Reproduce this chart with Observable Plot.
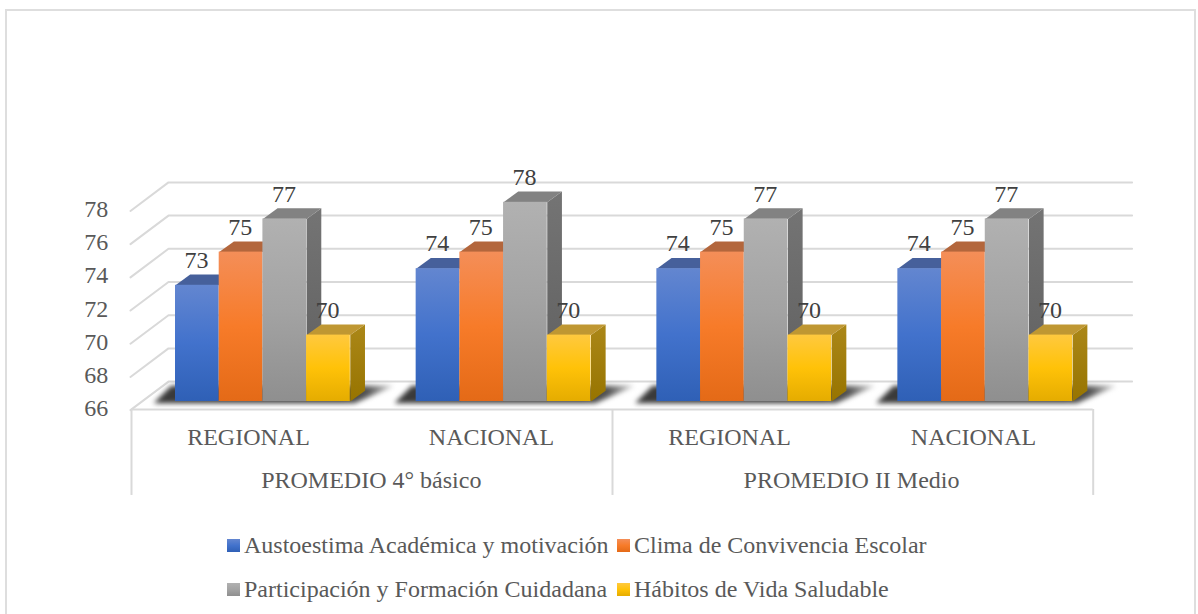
<!DOCTYPE html>
<html><head><meta charset="utf-8">
<script src="https://cdn.jsdelivr.net/npm/d3@7"></script>
<script src="https://cdn.jsdelivr.net/npm/@observablehq/plot@0.6"></script>
<style>
html,body{margin:0;padding:0;background:#fff;overflow:hidden}
#page{position:relative;width:1198px;height:614px;overflow:hidden;font-family:"Liberation Serif",serif}
#frame{position:absolute;left:5px;top:9px;width:1187px;height:700px;border:2px solid #dedede}
#chart{position:absolute;left:0;top:0}
#legend{position:absolute;left:227px;top:523px;display:grid;grid-template-columns:13px 377px 13px auto;grid-auto-rows:44px;align-items:center;color:#595959;font-size:24px;white-space:nowrap}
#legend i{display:block;width:13px;height:13px}
#legend span{padding-left:4px}
</style></head><body>
<div id="page"><div id="frame"></div><div id="chart"></div><div id="legend"></div></div>
<script>
const seriesNames = ["Austoestima Académica y motivación","Clima de Convivencia Escolar","Participación y Formación Cuidadana","Hábitos de Vida Saludable"];
const autoestima = [73,74,74,74];
const clima = [75,75,75,75];
const participacion = [77,78,77,77];
const habitos = [70,70,70,70];
const seriesValues = [autoestima,clima,participacion,habitos];
const categories = ["REGIONAL","NACIONAL","REGIONAL","NACIONAL"];
const categoryCenters = [1.67,7.23,12.68,18.26];
const parents = ["PROMEDIO 4° básico","PROMEDIO II Medio"];
const parentCenters = [4.48,15.47];
const yTicks = [66,68,70,72,74,76,78];
const groupStarts = [0,5.507,11.015,16.53];
const frontStops = [["#6386d0","#4272cc","#2f60b6"],["#f48e58","#f77b29","#e46a17"],["#b1b1b1","#a3a3a3","#8f8f8f"],["#ffc93f","#ffc208","#e5ac00"]];
const topColors = ["#46609b","#b3663c","#828282","#bf9732"];
const sideStops = [["#3c5a94","#2a4a88"],["#a85a30","#964f25"],["#747474","#5e5e5e"],["#ab8718","#977400"]];
const shadowStops = ["#3a3a3a","#3a3a3a","#3a3a3a","#3a3a3a","#3a3a3a","#3a3a3a","#3a3a3a","#3a3a3a","#555555","#d0d0d0"];

const W = 1198, H = 520, pxU = 43.7, pxV = 16.6;
const xDomain = [-175/pxU, (W-175)/pxU], yDomain = [66-(H-401)/pxV, 66+401/pxV];
const depthU = 0.336, depthV = 0.645;          // bar depth
const frontU = -1.03, frontV = -0.52;          // floor front edge
const backU = -0.16, backV = 1.2, rightU = 21.89; // rear wall
const tableTop = 65.52, tableBottom = 60.34, tableXs = [-1.007,10.0,21.0];

const defs = () => {
  const s = d3.create("svg:defs");
  const grad = (id, stops, horizontal) => {
    const g = s.append("linearGradient").attr("id",id).attr("x1",0).attr("y1",0).attr("x2",horizontal?1:0).attr("y2",horizontal?0:1);
    stops.forEach((c,i)=>g.append("stop").attr("offset",i/(stops.length-1)).attr("stop-color",c));
  };
  frontStops.forEach((st,i)=>grad("front"+i,st));
  sideStops.forEach((st,i)=>grad("side"+i,st));
  grad("shadow",shadowStops,true);
  return s.node();
};

// wall grid polylines
const gridPts = yTicks.flatMap(t=>[
  {t,x:frontU,y:t+frontV},{t,x:backU,y:t+backV},{t,x:rightU,y:t+backV}]);
// floor shadow
const shadowPts = groupStarts.flatMap((g,k)=>[
  {k,x:g-0.5,y:65.9},{k,x:g+4.1,y:65.9},{k,x:g+5.0,y:66.95},{k,x:g-0.1,y:66.95}]);
const records = seriesValues.map((vals,i)=>vals.map((v,g)=>({v,g,i,x1:groupStarts[g]+i,x2:groupStarts[g]+i+1})));
const sidePts = i=>records[i].flatMap(d=>[
  {z:d.g,x:d.x2,y:66},{z:d.g,x:d.x2+depthU,y:66+depthV},{z:d.g,x:d.x2+depthU,y:d.v+depthV},{z:d.g,x:d.x2,y:d.v}]);
const topPts = i=>records[i].flatMap(d=>[
  {z:d.g,x:d.x1,y:d.v},{z:d.g,x:d.x2,y:d.v},{z:d.g,x:d.x2+depthU,y:d.v+depthV},{z:d.g,x:d.x1+depthU,y:d.v+depthV}]);

const marks = [defs,
  Plot.line(gridPts,{x:"x",y:"y",z:"t",stroke:"#d9d9d9",strokeWidth:2}),
  Plot.line(shadowPts,{x:"x",y:"y",z:"k",fill:"url(#shadow)",stroke:"none",imageFilter:"blur(2.5px)"}),
];
seriesValues.forEach((_,i)=>{
  marks.push(
    Plot.line(sidePts(i),{x:"x",y:"y",z:"z",fill:`url(#side${i})`,stroke:"none"}),
    Plot.line(topPts(i),{x:"x",y:"y",z:"z",fill:topColors[i],stroke:"none"}),
    Plot.rect(records[i],{x1:"x1",x2:"x2",y1:()=>66,y2:"v",fill:`url(#front${i})`})
  );
});
marks.push(
  Plot.ruleY([tableTop],{x1:tableXs[0],x2:tableXs[2],stroke:"#d9d9d9",strokeWidth:2}),
  Plot.ruleX(tableXs,{y1:tableTop,y2:tableBottom,stroke:"#d9d9d9",strokeWidth:2}),
  Plot.text(yTicks,{x:()=>-1.54,y:d=>d-0.42,text:d=>String(d),textAnchor:"end",fontSize:24,fill:"#595959",fontFamily:"Liberation Serif"}),
  Plot.text(records.flat(),{x:d=>(d.x1+d.x2)/2-0.02,y:"v",text:d=>String(d.v),dy:-25,fontSize:24,fill:"#404040",fontFamily:"Liberation Serif"}),
  Plot.text(categories,{x:(d,i)=>categoryCenters[i],y:()=>63.86,text:d=>d,fontSize:24,fill:"#595959",fontFamily:"Liberation Serif"}),
  Plot.text(parents,{x:(d,i)=>parentCenters[i],y:()=>61.26,text:d=>d,fontSize:24,fill:"#595959",fontFamily:"Liberation Serif"})
);
const chart = Plot.plot({width:W,height:H,margin:0,style:{background:"transparent"},
  x:{domain:xDomain,range:[0,W],axis:null},
  y:{domain:yDomain,range:[H,0],axis:null},
  marks});
document.getElementById("chart").append(chart);

const legend = document.getElementById("legend");
[0,1,2,3].forEach(i=>{
  const sw=document.createElement("i");
  sw.style.background=`linear-gradient(${frontStops[i].join(",")})`;
  const t=document.createElement("span");
  t.textContent=seriesNames[i];
  legend.append(sw,t);
});
</script></body></html>
